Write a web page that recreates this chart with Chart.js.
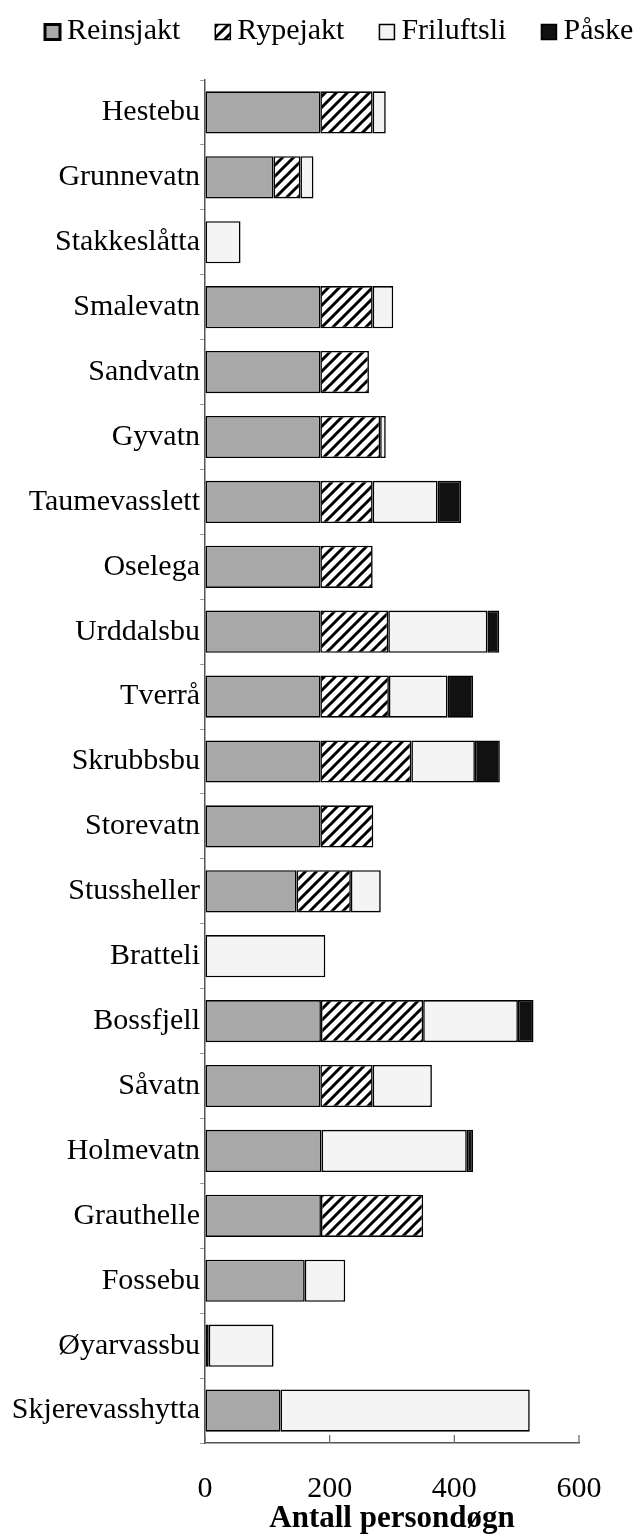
<!DOCTYPE html>
<html>
<head>
<meta charset="utf-8">
<script src="https://cdn.jsdelivr.net/npm/chart.js@4.4.0/dist/chart.umd.min.js"></script>
<style>
html,body{margin:0;padding:0;background:#fff;}
#wrap{width:641px;height:1534px;position:relative;}
</style>
</head>
<body>
<div id="wrap"><canvas id="c"></canvas></div>
<script>
const categories = ["Hestebu","Grunnevatn","Stakkeslåtta","Smalevatn","Sandvatn","Gyvatn","Taumevasslett","Oselega","Urddalsbu","Tverrå","Skrubbsbu","Storevatn","Stussheller","Bratteli","Bossfjell","Såvatn","Holmevatn","Grauthelle","Fossebu","Øyarvassbu","Skjerevasshytta"];
const reinsjakt  = [185,110,null,185,185,185,185,185,185,185,185,185,147,null,186,185,187,186,160,null,121];
const rypejakt   = [84,43,null,84,78,96,84,84,109,110,146,85,87,null,164,84,null,164,null,6,null];
const friluftsli = [21,21,57,33,null,9,104,null,159,94,102,null,48,193,152,95,233,null,65,104,400];
const paske      = [null,null,null,null,null,null,38,null,19,41,40,null,null,null,25,null,10,null,null,null,null];
const seriesNames = ["Reinsjakt","Rypejakt","Friluftsli","Påske"];
const xTicks = [0,200,400,600];
const xTitle = "Antall persondøgn";

function hatch(){
  const s = 11;
  const c = document.createElement('canvas');
  c.width = s; c.height = s;
  const g = c.getContext('2d');
  g.fillStyle = '#ffffff'; g.fillRect(0,0,s,s);
  g.strokeStyle = '#000'; g.lineWidth = 3;
  g.beginPath();
  g.moveTo(-2, s+2); g.lineTo(s+2, -2);
  g.moveTo(-2, 2); g.lineTo(2, -2);
  g.moveTo(s-2, s+2); g.lineTo(s+2, s-2);
  g.stroke();
  return g.createPattern(c, 'repeat');
}

const FONT = "'Liberation Serif', 'Times New Roman', serif";

const xTickMarks = {
  id: 'xTickMarks',
  afterDraw(chart){
    const sx = chart.scales.x, ctx = chart.ctx;
    ctx.save();
    ctx.strokeStyle = '#666'; ctx.lineWidth = 1.2;
    sx.ticks.forEach(t => {
      const px = sx.getPixelForValue(t.value);
      ctx.beginPath(); ctx.moveTo(px, sx.top); ctx.lineTo(px, sx.top - 8); ctx.stroke();
    });
    ctx.restore();
  }
};

const topLegend = {
  id: 'topLegend',
  afterDraw(chart){
    const ctx = chart.ctx;
    ctx.save();
    ctx.font = "30px " + FONT;
    ctx.textBaseline = 'middle';
    let x = 45;
    const yc = 31, bs = 15;
    chart.data.datasets.forEach((ds, i) => {
      const by = yc - bs/2 + 1;
      ctx.fillStyle = ds.backgroundColor;
      ctx.fillRect(x, by, bs, bs);
      ctx.strokeStyle = '#000';
      ctx.lineWidth = i === 0 ? 3 : 1.5;
      ctx.strokeRect(x, by, bs, bs);
      ctx.fillStyle = '#000';
      ctx.fillText(ds.label, x + bs + 7, yc);
      x += bs + 7 + ctx.measureText(ds.label).width + 35;
    });
    ctx.restore();
  }
};

const common = {borderColor:'#000', borderWidth:1.6, borderSkipped:false, categoryPercentage:0.65, barPercentage:1.0};
new Chart(document.getElementById('c'), {
  type: 'bar',
  data: {
    labels: categories,
    datasets: [
      Object.assign({label: seriesNames[0], data: reinsjakt, backgroundColor:'#a8a8a8'}, common),
      Object.assign({label: seriesNames[1], data: rypejakt, backgroundColor: hatch()}, common),
      Object.assign({label: seriesNames[2], data: friluftsli, backgroundColor:'#f4f4f4'}, common),
      Object.assign({label: seriesNames[3], data: paske, backgroundColor:'#111111'}, common)
    ]
  },
  options: {
    indexAxis: 'y',
    responsive: true,
    maintainAspectRatio: false,
    animation: false,
    layout: {padding: {left: 0, right: 62, top: 80, bottom: 0}},
    plugins: {
      tooltip: {enabled:false},
      legend: {display:false}
    },
    scales: {
      x: {
        stacked: true, min: 0, max: 600,
        afterBuildTicks(s){ s.ticks = xTicks.map(v => ({value:v})); },
        grid: {display:true, drawOnChartArea:false, drawTicks:false},
        border: {display:true, color:'#555', width:1.5},
        ticks: {font:{family:FONT, size:30}, color:'#000', padding:28},
        title: {display:true, text:xTitle, font:{family:FONT, size:31, weight:'bold'}, color:'#000', padding:{top:0,bottom:-4}},
        afterFit(s){ s.height = 91; }
      },
      y: {
        stacked: true,
        grid: {display:true, drawOnChartArea:false, drawTicks:true, tickLength:5, color:'#999'},
        border: {display:true, color:'#555', width:1.5},
        ticks: {font:{family:FONT, size:30}, color:'#000', padding:0},
        afterFit(s){ s.width = 205; }
      }
    }
  },
  plugins: [xTickMarks, topLegend]
});
</script>
</body>
</html>
